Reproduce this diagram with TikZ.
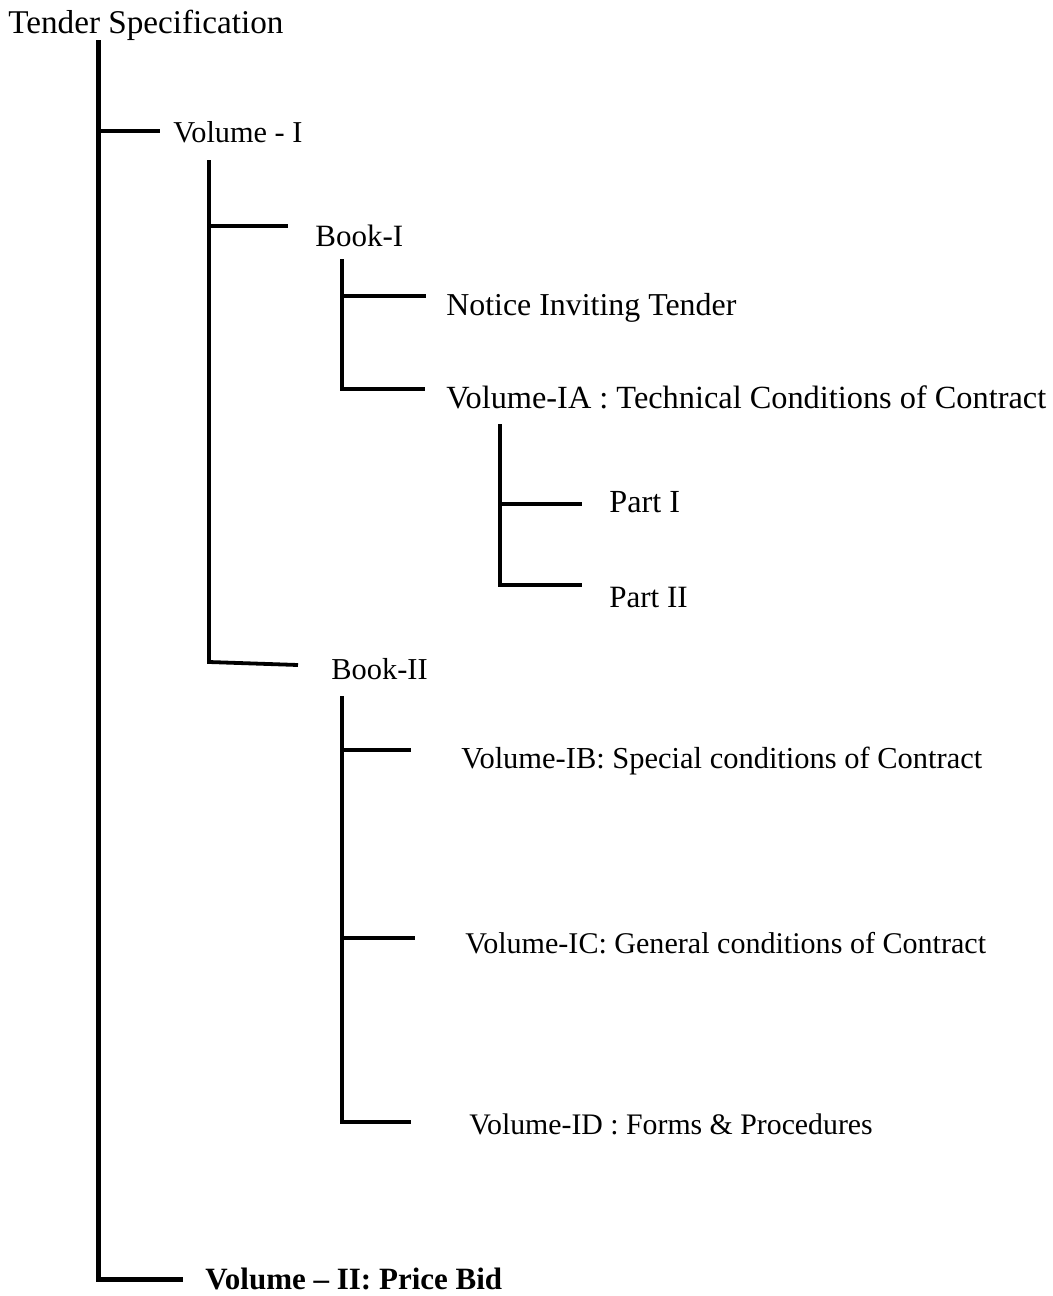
\documentclass[tikz,border=0pt]{standalone}
\usepackage{fontspec}
\setmainfont{Liberation Serif}
\begin{document}
\begin{tikzpicture}[x=0.5pt,y=-0.5pt,
  lbl/.style={anchor=base west,inner sep=0pt,font=\fontsize{#1}{18}\selectfont},
  lbl/.default=15.5,
  trunk/.style={line width=2.5pt},
  twig/.style={line width=1.9pt}]
\useasboundingbox (0,0) rectangle (1053,1296);
% labels
\node[lbl=16.6] (title) at (8,33) {Tender Specification};
\node[lbl=15.15] (vol1) at (173,142) {Volume - I};
\node[lbl] (book1) at (315,246) {Book-I};
\node[lbl=15.94] (nit) at (446,315) {Notice Inviting Tender};
\node[lbl=16.17] (volIA) at (446,408) {Volume-IA : Technical Conditions of Contract};
\node[lbl=16.1] (part1) at (609,512) {Part I};
\node[lbl] (part2) at (609,607) {Part II};
\node[lbl=15.2] (book2) at (331,679) {Book-II};
\node[lbl=15.24] (volIB) at (461,768) {Volume-IB: Special conditions of Contract};
\node[lbl=15.04] (volIC) at (465,953) {Volume-IC: General conditions of Contract};
\node[lbl=14.9] (volID) at (469,1134) {Volume-ID : Forms \& Procedures};
\node[lbl,font=\fontsize{15.5}{18}\selectfont\bfseries] (vol2) at (205,1289) {Volume -- II: Price Bid};
% coordinates
\coordinate (t0) at (98,40);
\coordinate (t1) at (98,131);
\coordinate (t1e) at (160,131);
\coordinate (t2) at (98,1279);
\coordinate (t2e) at (183,1279);
\coordinate (a0) at (209,160);
\coordinate (a1) at (209,226);
\coordinate (a1e) at (288,226);
\coordinate (a2) at (209,662);
\coordinate (a2e) at (298,665);
\coordinate (b0) at (342,259);
\coordinate (b1) at (342,296);
\coordinate (b1e) at (426,296);
\coordinate (b2) at (342,389);
\coordinate (b2e) at (425,389);
\coordinate (c0) at (500,424);
\coordinate (c1) at (500,504);
\coordinate (c1e) at (582,504);
\coordinate (c2) at (500,585);
\coordinate (c2e) at (582,585);
\coordinate (d0) at (342,696);
\coordinate (d1) at (342,750);
\coordinate (d1e) at (411,750);
\coordinate (d2) at (342,938);
\coordinate (d2e) at (415,938);
\coordinate (d3) at (342,1122);
\coordinate (d3e) at (411,1122);
% connectors
\draw[trunk] (t0) -- (t2) -- (t2e);
\draw[twig] (t1) -- (t1e);
\draw[twig] (a0) -- (a2) -- (a2e);
\draw[twig] (a1) -- (a1e);
\draw[twig] (b0) -- (b2) -- (b2e);
\draw[twig] (b1) -- (b1e);
\draw[twig] (c0) -- (c2) -- (c2e);
\draw[twig] (c1) -- (c1e);
\draw[twig] (d0) -- (d3) -- (d3e);
\draw[twig] (d1) -- (d1e);
\draw[twig] (d2) -- (d2e);
\end{tikzpicture}
\end{document}
